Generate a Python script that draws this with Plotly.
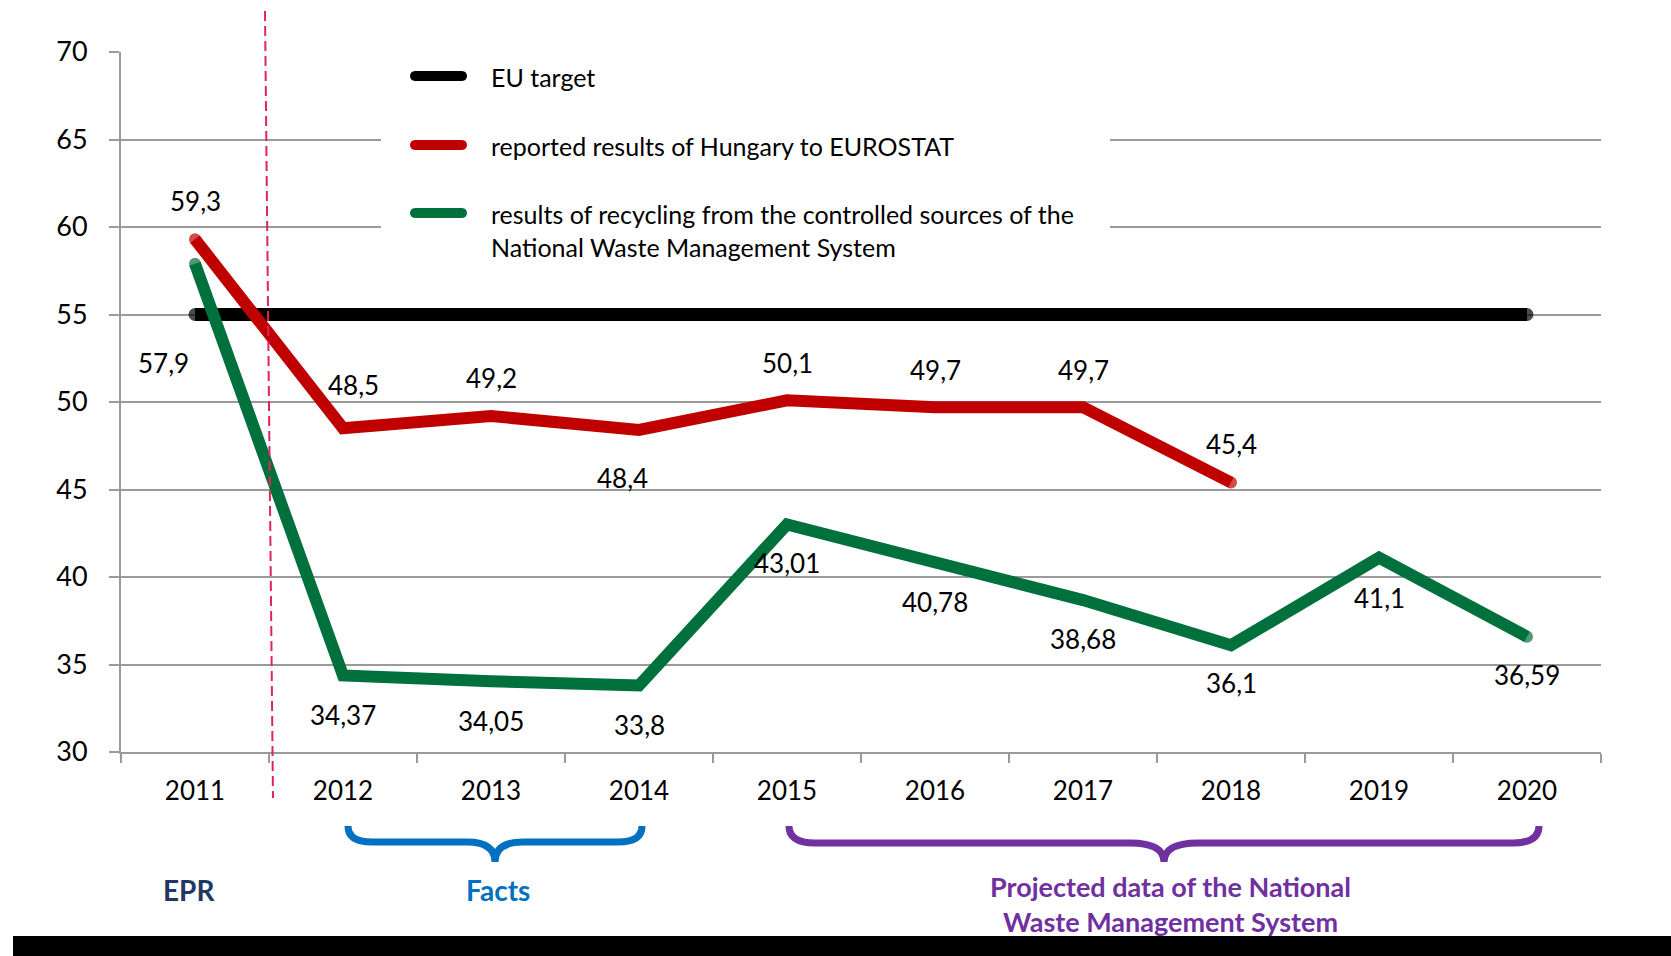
import plotly.graph_objects as go

# ---------------- data ----------------
years = ["2011", "2012", "2013", "2014", "2015", "2016", "2017", "2018", "2019", "2020"]
eu_target = [55, 55, 55, 55, 55, 55, 55, 55, 55, 55]
reported = [59.3, 48.5, 49.2, 48.4, 50.1, 49.7, 49.7, 45.4, None, None]
controlled = [57.9, 34.37, 34.05, 33.8, 43.01, 40.78, 38.68, 36.1, 41.1, 36.59]

series_names = [
    "EU target",
    "reported results of Hungary to EUROSTAT",
    "results of recycling from the controlled sources of the<br>National Waste Management System",
]
y_ticks = [30, 35, 40, 45, 50, 55, 60, 65, 70]

# label offsets (pixels) for the data labels
reported_dx = [0, 10, 0, -17, 0, 0, 0, 0, 0, 0]
reported_dy = [38, 43, 38, -48, 37, 37, 37, 39, 0, 0]
controlled_dx = [-32, 0, 0, 0, 0, 0, 0, 0, 0, 0]
controlled_dy = [-99, -39, -40, -39, -39, -39, -39, -38, -40, -38]

# ---------------- style ----------------
BLACK = "#000000"
RED = "#C00000"
GREEN = "#00703C"
GRID = "#9A9A9A"
PINK = "#E0245E"
BLUE = "#0070C0"
PURPLE = "#7030A0"
NAVY = "#1F3864"
FONT = "Lato, 'Open Sans', sans-serif"

W, H = 1671, 956
L, R, T, B = 121, 70, 52, 204
PW, PH = W - L - R, H - T - B


def px(x):
    return (x - L) / PW


def py(y):
    return (H - B - y) / PH


def end_sizes(vals, size):
    idx = [i for i, v in enumerate(vals) if v is not None]
    return [size if (i == idx[0] or i == idx[-1]) else 0 for i in range(len(vals))]


fig = go.Figure()
for vals, color, width in [(eu_target, BLACK, 13), (reported, RED, 12), (controlled, GREEN, 12)]:
    fig.add_trace(go.Scatter(
        x=years, y=vals, mode="lines+markers",
        line=dict(color=color, width=width),
        marker=dict(color=color, size=end_sizes(vals, width), line=dict(width=0)),
        connectgaps=False, showlegend=False, hoverinfo="skip",
    ))

annotations = []


def fmt(v):
    return str(v).replace(".", ",")


for vals, dxs, dys in [(reported, reported_dx, reported_dy), (controlled, controlled_dx, controlled_dy)]:
    for i, (v, dx, dy) in enumerate(zip(vals, dxs, dys)):
        if v is None:
            continue
        annotations.append(dict(
            x=i, y=v, xref="x", yref="y", text=fmt(v), showarrow=False,
            xanchor="center", yanchor="middle",
            xshift=dx, yshift=dy, font=dict(family=FONT, size=26, color="#000000"),
        ))

shapes = []

# legend box and symbols
shapes.append(dict(type="rect", xref="paper", yref="paper",
                   x0=px(381), x1=px(1110), y0=py(56), y1=py(268),
                   fillcolor="white", line=dict(width=0), layer="above"))


def capsule(x0, x1, yc, r):
    k = 4.0 / 3.0 * r
    pts = [
        ("M", [(x0 + r, yc - r)]),
        ("L", [(x1 - r, yc - r)]),
        ("C", [(x1 - r + k, yc - r), (x1 - r + k, yc + r), (x1 - r, yc + r)]),
        ("L", [(x0 + r, yc + r)]),
        ("C", [(x0 + r - k, yc + r), (x0 + r - k, yc - r), (x0 + r, yc - r)]),
    ]
    s = ""
    for cmd, ps in pts:
        s += cmd + " ".join(f"{px(a):.5f},{py(b):.5f}" for a, b in ps) + " "
    return s + "Z"


legend_rows = [76, 145, 213]
legend_colors = [BLACK, RED, GREEN]
for yc, col in zip(legend_rows, legend_colors):
    shapes.append(dict(type="path", xref="paper", yref="paper", path=capsule(410, 467, yc, 5),
                       fillcolor=col, line=dict(width=0), layer="above"))

for yc, name in zip(legend_rows, series_names):
    annotations.append(dict(
        x=px(489), y=py(yc - 16), xref="paper", yref="paper", xanchor="left", yanchor="top",
        text=name, showarrow=False, align="left",
        font=dict(family=FONT, size=25, color="#000000"),
    ))

# dashed EPR separator
shapes.append(dict(type="line", xref="paper", yref="paper",
                   x0=px(265), y0=py(11), x1=px(273), y1=py(798),
                   line=dict(color=PINK, width=2, dash="10px,5px"), layer="above"))


def brace(x0, x1, ytop, ybar, ytip, r, r2):
    xm = (x0 + x1) / 2
    P = lambda a, b: f"{px(a):.5f},{py(b):.5f}"
    return (f"M{P(x0, ytop)} Q{P(x0, ybar)} {P(x0 + r, ybar)} L{P(xm - r2, ybar)} "
            f"Q{P(xm, ybar)} {P(xm, ytip)} Q{P(xm, ybar)} {P(xm + r2, ybar)} "
            f"L{P(x1 - r, ybar)} Q{P(x1, ybar)} {P(x1, ytop)}")


shapes.append(dict(type="path", xref="paper", yref="paper",
                   path=brace(348, 642, 826, 842, 862, 24, 28),
                   line=dict(color=BLUE, width=7), layer="above"))
shapes.append(dict(type="path", xref="paper", yref="paper",
                   path=brace(789, 1539, 826, 843, 862, 26, 34),
                   line=dict(color=PURPLE, width=7), layer="above"))

annotations += [
    dict(x=px(189), y=py(890), xref="paper", yref="paper", text="<b>EPR</b>", showarrow=False,
         xanchor="center", yanchor="middle", font=dict(family=FONT, size=28, color=NAVY)),
    dict(x=px(498), y=py(890), xref="paper", yref="paper", text="<b>Facts</b>", showarrow=False,
         xanchor="center", yanchor="middle", font=dict(family=FONT, size=28, color=BLUE)),
    dict(x=px(1170), y=py(904), xref="paper", yref="paper",
         text="<b>Projected data of the National<br>Waste Management System</b>", showarrow=False,
         xanchor="center", yanchor="middle", align="center",
         font=dict(family=FONT, size=27, color=PURPLE)),
]

# black strip at bottom
shapes.append(dict(type="rect", xref="paper", yref="paper",
                   x0=px(13), x1=px(1720), y0=py(936), y1=py(1000),
                   fillcolor="black", line=dict(width=0), layer="above"))

fig.update_layout(
    width=W, height=H,
    margin=dict(l=L, r=R, t=T, b=B, pad=0),
    paper_bgcolor="white", plot_bgcolor="white",
    font=dict(family=FONT, color="#000000"),
    shapes=shapes, annotations=annotations,
    hovermode=False,
    xaxis=dict(
        type="category", categoryorder="array", categoryarray=years,
        range=[-0.5, 9.5], tickson="boundaries", ticks="outside", ticklen=9,
        tickwidth=2, tickcolor=GRID, showline=True, linecolor=GRID, linewidth=2,
        showgrid=False, zeroline=False, tickfont=dict(family=FONT, size=26, color="#000000"),
        ticklabelstandoff=15,
    ),
    yaxis=dict(
        range=[30, 70], tickvals=y_ticks, ticks="outside", ticklen=10, tickwidth=2,
        tickcolor=GRID, showline=True, linecolor=GRID, linewidth=2,
        showgrid=True, gridcolor=GRID, gridwidth=2, zeroline=False,
        tickfont=dict(family=FONT, size=27, color="#000000"), ticklabelstandoff=16,
    ),
)

fig.write_html(
    "out.html",
    config={"displayModeBar": False},
    post_script="document.body.style.margin='0';document.body.style.overflow='hidden';",
)
